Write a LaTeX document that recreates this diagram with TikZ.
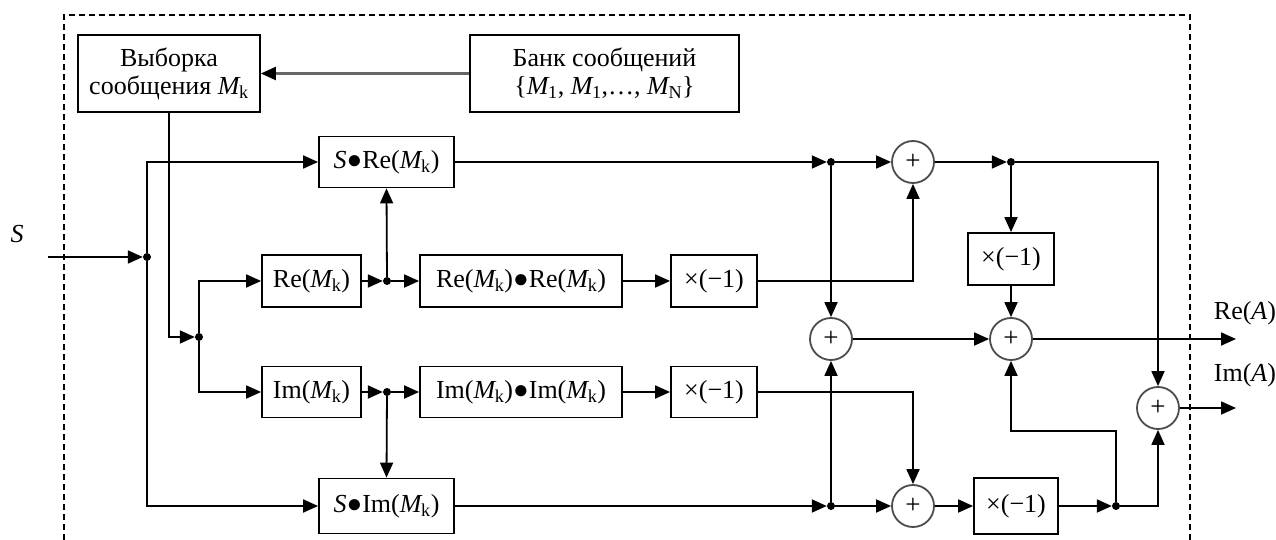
\documentclass[tikz,border=0pt]{standalone}
\usepackage{fontspec}
\setmainfont{Liberation Serif}
\usetikzlibrary{arrows.meta}
\newcommand\Mk{\textit{M}\kern-1.5pt\textsubscript{k}}
\begin{document}
\begin{tikzpicture}[x=1pt,y=-1pt,
  every node/.style={font=\fontsize{26}{30}\selectfont},
  box/.style={draw,line width=1.8pt,inner sep=0pt,align=center},
  sumc/.style={draw=black!70,line width=1.8pt,circle,minimum size=42pt,inner sep=0pt,font=\fontsize{27}{28}\selectfont},
  dot/.style={circle,fill,inner sep=0pt,minimum size=8pt},
  arr/.style={line width=1.8pt,-{Triangle[length=15pt,width=13pt]}},
  garr/.style={line width=2.4pt,draw=black!60,-{Triangle[length=15pt,width=13pt,color=black]}},
  frame/.style={line width=1.5pt,dash pattern=on 6pt off 4pt}
]
\useasboundingbox (0,0) rectangle (1276,540);
\draw[frame] (64,540) -- (64,15) -- (1190,15) -- (1190,540);

% boxes
\node[box,minimum width=182pt,minimum height=77pt] (vyb) at (169,73.5) {Выборка\\[-2pt]сообщения \Mk};
\node[box,minimum width=269pt,minimum height=77pt] (bank) at (604.5,73.5) {Банк сообщений\\[-2pt]\{\textit{M}\kern-1.5pt\textsubscript{1}, \textit{M}\kern-1.5pt\textsubscript{1},…, \textit{M}\kern-1.5pt\textsubscript{N}\}};
\node[box,minimum width=135pt,minimum height=51pt] (sre) at (386.5,162) {\textit{S}●Re(\Mk)};
\node[box,minimum width=99pt,minimum height=52pt] (re) at (311.5,281) {Re(\Mk)};
\node[box,minimum width=202pt,minimum height=52pt] (rere) at (521,281) {Re(\Mk)●Re(\Mk)};
\node[box,minimum width=86pt,minimum height=52pt] (n1) at (714,281) {×(−1)};
\node[box,minimum width=99pt,minimum height=51pt] (im) at (311.5,392) {Im(\Mk)};
\node[box,minimum width=202pt,minimum height=51pt] (imim) at (521,392) {Im(\Mk)●Im(\Mk)};
\node[box,minimum width=86pt,minimum height=51pt] (n2) at (714,392) {×(−1)};
\node[box,minimum width=135pt,minimum height=55pt] (sim) at (386.5,506) {\textit{S}●Im(\Mk)};
\node[box,minimum width=86pt,minimum height=52pt] (n3) at (1011,259) {×(−1)};
\node[box,minimum width=84pt,minimum height=56pt] (n4) at (1016,506) {×(−1)};

% summers
\node[sumc] (s1) at (913,162) {+};
\node[sumc] (s2) at (831,339) {+};
\node[sumc] (s3) at (1011,339) {+};
\node[sumc] (s4) at (913,506) {+};
\node[sumc] (s5) at (1158,408) {+};

% junction dots
\node[dot] (dS) at (147,257) {};
\node[dot] (dM) at (199,337) {};
\node[dot] (dR) at (387,281) {};
\node[dot] (dI) at (387,392) {};
\node[dot] (dA) at (831,162) {};
\node[dot] (dB) at (831,506) {};
\node[dot] (dC) at (1011,162) {};
\node[dot] (dD) at (1116,506) {};

% free ends and labels
\coordinate (sIn) at (48,257);
\coordinate (reOut) at (1236,339);
\coordinate (imOut) at (1236,408);
\coordinate (k1) at (1116,431);
\node (lS) at (17,234) {\textit{S}};
\node (lRe) at (1245,313) {Re(\textit{A})};
\node (lIm) at (1245,375) {Im(\textit{A})};

% connectors
\draw[garr] (bank.west) -- (vyb.east);
\draw[arr] (sIn) -- (dS);
\draw[arr] (dS) |- (sre.west);
\draw[arr] (dS) |- (sim.west);
\draw[arr] (vyb.south) |- (dM);
\draw[arr] (dM) |- (re.west);
\draw[arr] (dM) |- (im.west);
\draw[arr] (re.east) -- (dR);
\draw[arr] (dR) -- (rere.west);
\draw[arr] (dR) -- (sre.south);
\draw[arr] (im.east) -- (dI);
\draw[arr] (dI) -- (imim.west);
\draw[arr] (dI) -- (sim.north);
\draw[arr] (rere.east) -- (n1.west);
\draw[arr] (imim.east) -- (n2.west);
\draw[arr] (sre.east) -- (dA);
\draw[arr] (dA) -- (s1.west);
\draw[arr] (dA) -- (s2.north);
\draw[arr] (n1.east) -| (s1.south);
\draw[arr] (n2.east) -| (s4.north);
\draw[arr] (sim.east) -- (dB);
\draw[arr] (dB) -- (s4.west);
\draw[arr] (dB) -- (s2.south);
\draw[arr] (s1.east) -- (dC);
\draw[arr] (dC) -- (n3.north);
\draw[arr] (dC) -| (s5.north);
\draw[arr] (n3.south) -- (s3.north);
\draw[arr] (s2.east) -- (s3.west);
\draw[arr] (s3.east) -- (reOut);
\draw[arr] (s5.east) -- (imOut);
\draw[arr] (s4.east) -- (n4.west);
\draw[arr] (n4.east) -- (dD);
\draw[arr] (dD) -| (s5.south);
\draw[arr] (dD) -- (k1) -| (s3.south);
\end{tikzpicture}
\end{document}
